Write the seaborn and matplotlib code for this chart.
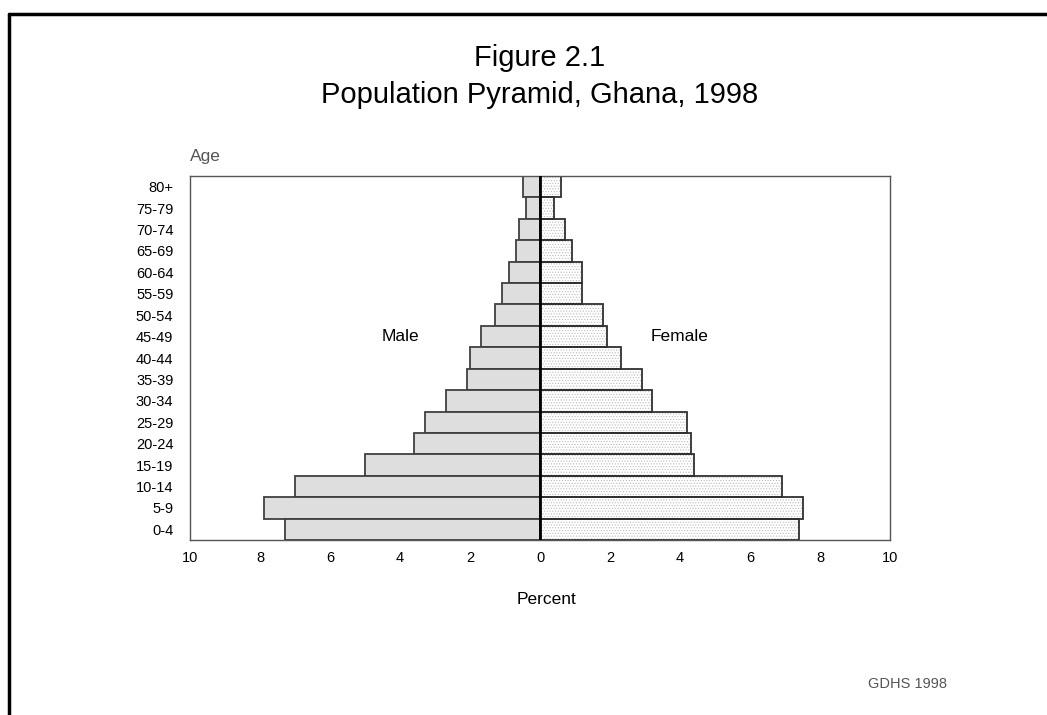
import pandas as pd
import matplotlib
matplotlib.use("Agg")
import matplotlib.pyplot as plt
import seaborn as sns
from matplotlib.lines import Line2D

# age groups, top of pyramid first
ages = ["80+", "75-79", "70-74", "65-69", "60-64", "55-59", "50-54", "45-49",
        "40-44", "35-39", "30-34", "25-29", "20-24", "15-19", "10-14", "5-9", "0-4"]
male = [0.5, 0.4, 0.6, 0.7, 0.9, 1.1, 1.3, 1.7, 2.0, 2.1, 2.7, 3.3, 3.6, 5.0, 7.0, 7.9, 7.3]
female = [0.6, 0.4, 0.7, 0.9, 1.2, 1.2, 1.8, 1.9, 2.3, 2.9, 3.2, 4.2, 4.3, 4.4, 6.9, 7.5, 7.4]
xticks = [-10, -8, -6, -4, -2, 0, 2, 4, 6, 8, 10]

df = pd.concat([
    pd.DataFrame({"age": ages, "sex": "Male", "pct": [-v for v in male]}),
    pd.DataFrame({"age": ages, "sex": "Female", "pct": female}),
])

sns.set_theme(style="white")
plt.rcParams["font.family"] = ["Liberation Sans", "DejaVu Sans"]
plt.rcParams["text.color"] = "black"
plt.rcParams["hatch.linewidth"] = 0.5

fig = plt.figure(figsize=(10.47, 7.15), dpi=100)
ax = fig.add_axes([0.1815, 0.2448, 0.6686, 0.509])

sns.barplot(data=df, x="pct", y="age", hue="sex", order=ages, orient="h",
            dodge=False, width=1.0, palette={"Male": "#dedede", "Female": "white"},
            edgecolor="#404040", linewidth=1.3, legend=False, ax=ax)

# fine dotted fill on the female side
for p in ax.patches:
    if p.get_x() >= 0 and p.get_width() > 0:
        p.set_hatch("......")
        p.set_edgecolor("#bdbdbd")
        p.set_linewidth(0)
# redraw female outlines on top
sns.barplot(data=df[df.sex == "Female"], x="pct", y="age", order=ages, orient="h",
            width=1.0, fill=False, edgecolor="#303030", linewidth=1.3, ax=ax)

ax.axvline(0, color="black", lw=2, zorder=5)
ax.set_xlim(-10, 10)
ax.set_ylim(len(ages) - 0.5, -0.5)
ax.set_xticks(xticks)
ax.set_xticklabels([str(abs(t)) for t in xticks])
ax.tick_params(axis="both", length=0, labelsize=10.5, colors="black")
ax.tick_params(axis="x", pad=8)
ax.tick_params(axis="y", pad=12)
ax.set_xlabel("")
ax.set_ylabel("")
for s in ax.spines.values():
    s.set_color("#555555")
    s.set_linewidth(1.0)

ax.text(-4.0, 7, "Male", ha="center", va="center", fontsize=12.5)
ax.text(4.0, 7, "Female", ha="center", va="center", fontsize=12.5)

fig.text(547 / 1047, 1 - 599 / 715, "Percent", ha="center", va="center", fontsize=12.5)
fig.text(190 / 1047, 1 - 156 / 715, "Age", ha="left", va="center", fontsize=12.5, color="#555555")
fig.text(540 / 1047, 1 - 66 / 715, "Figure 2.1", ha="center", va="baseline", fontsize=21)
fig.text(540 / 1047, 1 - 103 / 715, "Population Pyramid, Ghana, 1998", ha="center",
         va="baseline", fontsize=21)
fig.text(907 / 1047, 1 - 684 / 715, "GDHS 1998", ha="center", va="center", fontsize=10.5,
         color="#555555")

# page border lines (top and left)
fig.add_artist(Line2D([9 / 1047, 1], [1 - 14 / 715, 1 - 14 / 715], color="black", lw=2.5,
                      transform=fig.transFigure))
fig.add_artist(Line2D([9 / 1047, 9 / 1047], [0, 1 - 14 / 715], color="black", lw=2.5,
                      transform=fig.transFigure))

fig.savefig("out.png", dpi=100)
